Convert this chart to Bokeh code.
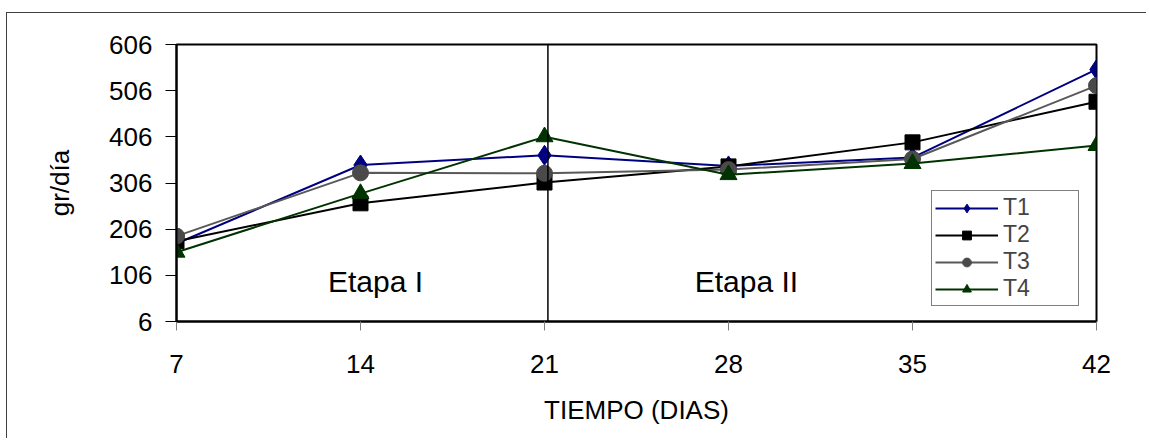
from bokeh.plotting import figure
from bokeh.embed import file_html
from bokeh.resources import INLINE
from bokeh.models import FixedTicker, Span, Label, Legend, LegendItem

dias = [7, 14, 21, 28, 35, 42]
T1 = [175, 345, 366, 343, 361, 552]
T2 = [180, 262, 307, 342, 394, 482]
T3 = [191, 328, 327, 335, 358, 517]
T4 = [156, 283, 406, 324, 348, 387]
y_ticks = [6, 106, 206, 306, 406, 506, 606]

FONT = "Liberation Sans"

p = figure(width=1140, height=426, output_backend="svg", toolbar_location=None,
           x_range=(7, 42), y_range=(6, 606),
           min_border_left=169, min_border_right=51, min_border_top=31, min_border_bottom=118,
           x_axis_label="TIEMPO (DIAS)", y_axis_label="gr/día")
p.styles = {"border-left": "1px solid #404040", "border-top": "1px solid #404040",
            "margin-top": "12px", "margin-left": "6px"}

p.xgrid.visible = False
p.ygrid.visible = False
p.outline_line_color = "black"
p.outline_line_width = 2
p.background_fill_color = "white"
p.border_fill_color = "white"

p.xaxis.ticker = FixedTicker(ticks=dias)
p.yaxis.ticker = FixedTicker(ticks=y_ticks)
for ax in (p.xaxis, p.yaxis):
    ax.major_label_text_font = FONT
    ax.major_label_text_font_size = "26px"
    ax.major_label_text_color = "black"
    ax.axis_label_text_font = FONT
    ax.axis_label_text_font_size = "26px"
    ax.axis_label_text_font_style = "normal"
    ax.axis_label_text_color = "black"
    ax.minor_tick_line_color = None
    ax.axis_line_width = 2
    ax.axis_line_color = "black"
p.yaxis.major_tick_out = 11
p.yaxis.major_tick_in = 0
p.yaxis.major_tick_line_color = "black"
p.yaxis.major_label_standoff = 13
p.yaxis.axis_label_standoff = 31
p.xaxis.major_tick_out = 9
p.xaxis.major_tick_in = 0
p.xaxis.major_tick_line_color = "#808080"
p.xaxis.major_label_standoff = 24
p.xaxis.axis_label_standoff = 19

series = [
    ("T1", T1, "#000080", "#000080", "diamond", 20),
    ("T2", T2, "black", "black", "square", 15),
    ("T3", T3, "#595959", "#4a4a4a", "circle", 16),
    ("T4", T4, "#003300", "#003300", "triangle", 17),
]
items = []
for name, ys, lc, mc, mk, sz in series:
    r1 = p.line(dias, ys, line_color=lc, line_width=2)
    r2 = p.scatter(dias, ys, marker=mk, size=sz, fill_color=mc, line_color=mc)
    items.append(LegendItem(label=name, renderers=[r1, r2]))

span = Span(location=21.13, dimension="height", line_color="black", line_width=1.5)
p.add_layout(span)

for txt, xx in (("Etapa I", 14.57), ("Etapa II", 28.68)):
    p.add_layout(Label(x=xx, y=93, text=txt, text_align="center", text_baseline="alphabetic",
                       text_font=FONT, text_font_size="30px", text_color="black"))

legend = Legend(items=items, location=(755, 15))
legend.label_text_font = FONT
legend.label_text_font_size = "23px"
legend.label_text_line_height = 0.9
legend.label_height = 22
legend.label_width = 72
legend.glyph_height = 22
legend.glyph_width = 63
legend.spacing = 0
legend.padding = 3
legend.margin = 0
legend.label_standoff = 5
legend.border_line_color = "black"
legend.border_line_width = 1
legend.background_fill_alpha = 1
p.add_layout(legend)

open("out.html", "w").write(file_html(p, INLINE))
